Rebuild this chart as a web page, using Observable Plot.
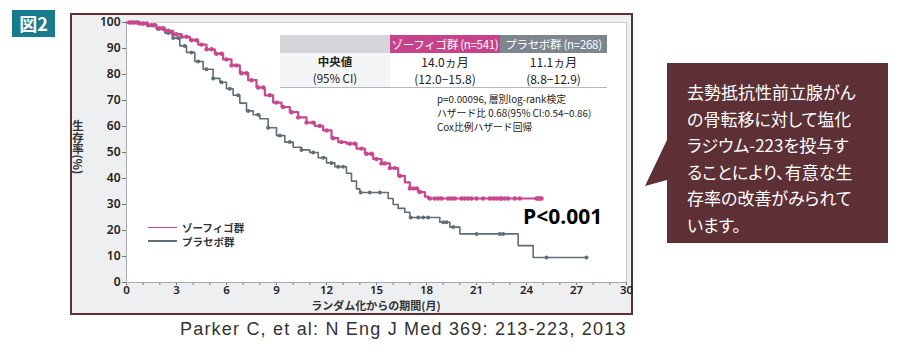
<!DOCTYPE html>
<html><head><meta charset="utf-8">
<script src="https://cdn.jsdelivr.net/npm/d3@7"></script>
<script src="https://cdn.jsdelivr.net/npm/@observablehq/plot@0.6"></script>
<style>
html,body{margin:0;padding:0;background:#fff;}
#page{position:relative;width:905px;height:353px;overflow:hidden;font-family:"Noto Sans CJK JP","Noto Sans",sans-serif;}
.abs{position:absolute;}
#badge{left:12px;top:10px;width:43px;height:27px;background:#177b8d;color:#fff;font-weight:bold;font-size:18px;line-height:27px;text-align:center;}
#frame{left:70px;top:13px;width:559px;height:298px;border:2px solid #5b3033;background:#eeeff1;}
#frame svg{display:block;overflow:visible;}
#ytitle{left:71px;top:120px;writing-mode:vertical-rl;text-orientation:mixed;font-size:11.5px;font-weight:bold;color:#333;line-height:14px;}
#xtitle{left:276px;top:299px;width:200px;text-align:center;font-size:11px;line-height:13px;font-weight:bold;color:#333;}
table.t{position:absolute;left:280px;top:35px;border-collapse:collapse;table-layout:fixed;width:327px;}
table.t td{padding:0;text-align:center;white-space:nowrap;overflow:hidden;}
.h1{background:#d4d6d9;width:110px;height:18px;}
.h2{background:#c6438c;color:#fff;width:110px;height:18px;font-size:11.5px;line-height:18px;letter-spacing:-0.3px;}
.h3{background:#7d868e;color:#fff;width:107px;height:18px;font-size:11.5px;line-height:18px;letter-spacing:-0.3px;}
.b td{background:#fff;height:34px;line-height:17px;color:#222;border-bottom:1.5px solid #b5b8bb;font-size:12px;}
.b td.c1{background:#f4f5f6;font-size:11.5px;}
#stats{left:437px;top:92px;font-size:9.8px;line-height:14px;color:#222;white-space:nowrap;}
#legend{left:148px;top:220px;font-size:10.5px;font-weight:bold;color:#333;}
.lg{display:flex;align-items:center;height:14px;}
.lg span.ln{display:inline-block;width:29px;margin-right:5px;}
#pval{left:523px;top:202px;font-family:"Open Sans",sans-serif;font-weight:bold;font-size:21px;color:#000;}
#callout{left:667px;top:63px;width:221px;height:180px;background:#5c3035;color:#fff;font-size:17px;line-height:26.5px;box-sizing:border-box;padding:16px 0 0 20px;font-feature-settings:"palt";}
#caption{left:180px;top:319px;font-family:"Liberation Sans",Arial,sans-serif;font-size:18px;color:#333;letter-spacing:1.2px;white-space:nowrap;}
</style></head>
<body><div id="page">
<div id="badge" class="abs">図2</div>
<div id="frame" class="abs"></div>
<div id="ytitle" class="abs">生存率(%)</div>
<div id="xtitle" class="abs">ランダム化からの期間(月)</div>
<table class="t">
<tr><td class="h1"></td><td class="h2">ゾーフィゴ群 (n=541)</td><td class="h3">プラセボ群 (n=268)</td></tr>
<tr class="b"><td class="c1"><b>中央値</b><br>(95% CI)</td><td>14.0ヵ月<br>(12.0−15.8)</td><td>11.1ヵ月<br>(8.8−12.9)</td></tr>
</table>
<div id="stats" class="abs">p=0.00096, 層別log-rank検定<br>ハザード比 0.68(95% CI:0.54−0.86)<br>Cox比例ハザード回帰</div>
<div id="legend" class="abs"></div>
<div id="pval" class="abs">P&lt;0.001</div>
<svg class="abs" style="left:644px;top:138px" width="24" height="50"><polygon points="23,2 1,48 23,42" fill="#5c3035"/></svg>
<div id="callout" class="abs">去勢抵抗性前立腺がん<br>の骨転移に対して塩化<br>ラジウム-223を投与す<br>ることにより、有意な生<br>存率の改善がみられて<br>います。</div>
<div id="caption" class="abs">Parker C, et al: N Eng J Med 369: 213-223, 2013</div>
</div>
<script>
const seriesNames = ["ゾーフィゴ群", "プラセボ群"];
const seriesColors = ["#c8478f", "#5f6e76"];
const xTicks = [0,3,6,9,12,15,18,21,24,27,30];
const xMinorTicks = [0,1,2,3,4,5,6,7,8,9,10,11,12,13,14,15,16,17,18,19,20,21,22,23,24,25,26,27,28,29,30];
const yTicks = [0,10,20,30,40,50,60,70,80,90,100];

const radiumTime = [0,0.8,1.3,1.8,2.3,2.8,3.3,3.8,4.3,4.8,5.3,5.8,6.3,6.8,7.3,7.8,8.3,8.8,9.3,9.8,10.3,10.8,11.3,11.8,12.3,12.7,13.2,13.8,14.3,14.8,15.3,15.8,16.3,16.7,17.0,17.5,17.9,18.1,24.9];
const radiumSurv = [100,99.6,99,97.8,96.8,95.5,94.5,93.2,91.5,89.7,88,85.8,83.5,80.5,77.8,75,72,69.2,67.5,65.5,63.5,61.5,60.2,58.5,55.5,54,53.4,51.5,49.5,47.5,45.8,44,41,38.5,36.2,34.8,33,32.3,32.3];
const radiumCensor = [0.2,0.4,0.6,0.8,1.0,1.2,1.5,1.7,2.0,2.2,2.5,2.8,3.0,3.3,3.6,3.9,4.2,4.5,4.8,5.1,5.4,5.7,6.0,6.3,6.6,6.9,7.2,7.5,7.9,8.2,8.6,9.0,9.4,9.9,10.3,10.8,11.2,11.6,12.0,12.4,12.9,13.4,13.7,14.1,14.4,14.7,15.0,15.3,15.5,15.8,16.1,16.4,17.0,17.2,17.4,17.6,18.2,18.5,18.7,18.9,19.3,19.5,19.7,20.1,20.3,20.5,20.7,21.0,21.4,21.8,22.0,22.2,22.4,22.5,22.7,22.9,23.3,23.6,24.6,24.7,24.8,24.9];

const placeboTime = [0,0.8,1.3,1.8,2.3,2.8,3.2,3.6,4.1,4.6,5.2,5.6,6.0,6.4,6.8,7.2,7.6,8.0,8.5,9.0,9.5,10.0,10.5,11.0,11.5,12.0,12.5,13.2,13.5,13.8,14.0,15.7,16.0,16.3,16.7,17.0,18.8,19.4,20.0,23.5,24.4,27.6];
const placeboSurv = [100,99.5,98.8,97.5,96,94,91,88.5,85,82,78.5,77,74.5,72,69,66,64.5,63,59.5,56.5,54,52,51,50,48,46,44.5,42,39,36,34.6,32.3,30,28.5,27,25,23.2,21.3,18.7,14.2,9.6,9.6];
const placeboCensor = [0.2,0.4,0.7,1.0,1.3,1.6,1.9,2.2,2.5,2.8,3.1,3.5,3.9,4.3,4.8,5.2,5.7,6.2,6.7,7.3,7.9,8.5,9.2,9.8,10.5,11.2,11.8,12.3,12.7,13.0,14.05,14.6,15.2,17.05,17.5,17.8,18.1,19.0,19.2,19.6,21.0,22.4,22.6,25.2,27.6];

function steps(times, surv, g){ return times.map((t,i)=>({t, s: surv[i], g})); }
function censors(times, surv, cens, g){
  return cens.map(c=>{ let k=0; for(let i=0;i<times.length;i++){ if(times[i]<=c) k=i; } return {t:c, s:surv[k], g}; });
}
const stepData = [...steps(radiumTime, radiumSurv, seriesNames[0]), ...steps(placeboTime, placeboSurv, seriesNames[1])];
const censorData = [...censors(radiumTime, radiumSurv, radiumCensor, seriesNames[0]), ...censors(placeboTime, placeboSurv, placeboCensor, seriesNames[1])];

const chart = Plot.plot({
  width: 559, height: 298,
  marginLeft: 54, marginRight: 5, marginTop: 7, marginBottom: 31,
  style: {background: "#eeeff1", fontFamily: "'Noto Sans', sans-serif", fontSize: "12px", color: "#222", fontWeight: 600, overflow: "visible"},
  x: {domain: [0, 30], label: null},
  y: {domain: [0, 100], label: null},
  color: {domain: seriesNames, range: seriesColors},
  marks: [
    Plot.frame({fill: "white", stroke: "#c9cbcd"}),
    Plot.axisX({ticks: xMinorTicks, tickFormat: d => xTicks.includes(d) ? d : "", tickSize: 3, tickPadding: 0, stroke: "#777", fontSize: 11.5}),
    Plot.axisY({ticks: yTicks, tickSize: 4, tickPadding: 2, stroke: "#777", fontSize: 12}),
    Plot.ruleY([0], {stroke: "#aaa"}),
    Plot.ruleX([0], {stroke: "#aaa"}),
    Plot.line(stepData.filter(d=>d.g===seriesNames[1]), {x: "t", y: "s", stroke: "g", curve: "step-after", strokeWidth: 1.6}),
    Plot.dot(censorData.filter(d=>d.g===seriesNames[1]), {x: "t", y: "s", fill: "g", r: 2}),
    Plot.line(stepData.filter(d=>d.g===seriesNames[0]), {x: "t", y: "s", stroke: "g", curve: "step-after", strokeWidth: 2.2}),
    Plot.dot(censorData.filter(d=>d.g===seriesNames[0]), {x: "t", y: "s", fill: "g", r: 2.2})
  ]
});
document.getElementById("frame").appendChild(chart);

const leg = document.getElementById("legend");
seriesNames.forEach((n,i)=>{
  const row = document.createElement("div"); row.className = "lg";
  const ln = document.createElement("span"); ln.className = "ln";
  ln.style.borderTop = (i===0 ? 1.6 : 2) + "px solid " + seriesColors[i];
  row.appendChild(ln); row.appendChild(document.createTextNode(n));
  leg.appendChild(row);
});
</script>
</body></html>
